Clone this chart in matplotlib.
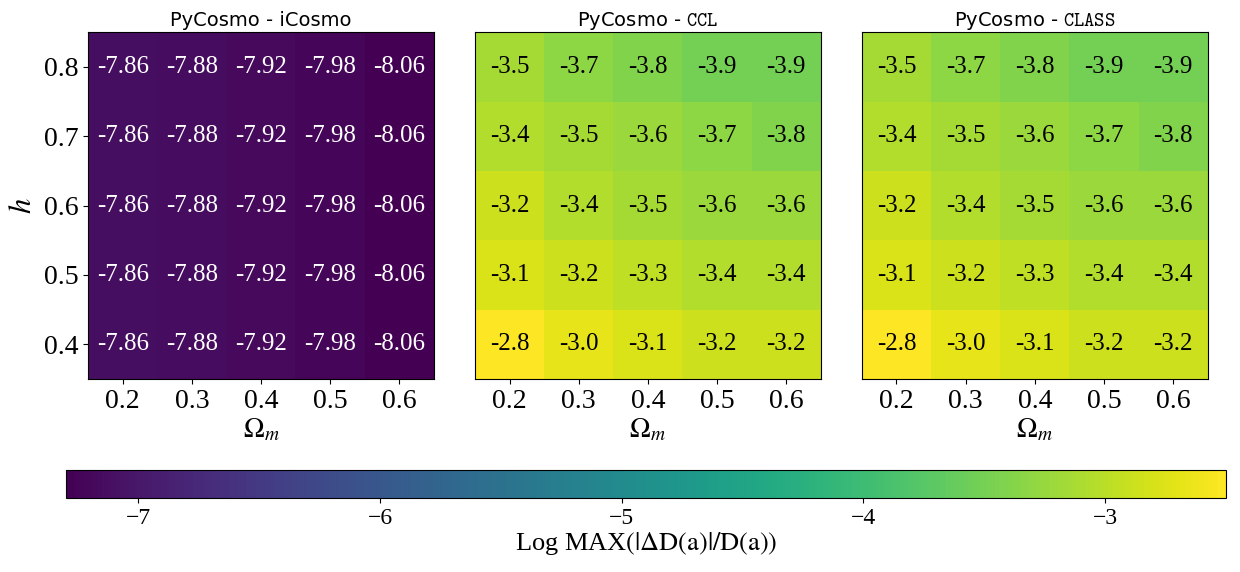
"""Accuracy of the linear growth factor: PyCosmo vs other codes."""

import numpy as np
import matplotlib
matplotlib.use("Agg")
import matplotlib.pyplot as plt
from matplotlib.colors import Normalize
from matplotlib.cm import ScalarMappable

omega_m = [0.2, 0.3, 0.4, 0.5, 0.6]
h_vals = [0.4, 0.5, 0.6, 0.7, 0.8]

# rows follow h_vals (0.4 at the bottom), columns follow omega_m
icosmo = [
    [-7.86, -7.88, -7.92, -7.98, -8.06],
    [-7.86, -7.88, -7.92, -7.98, -8.06],
    [-7.86, -7.88, -7.92, -7.98, -8.06],
    [-7.86, -7.88, -7.92, -7.98, -8.06],
    [-7.86, -7.88, -7.92, -7.98, -8.06],
]
ccl = [
    [-2.8, -3.0, -3.1, -3.2, -3.2],
    [-3.1, -3.2, -3.3, -3.4, -3.4],
    [-3.2, -3.4, -3.5, -3.6, -3.6],
    [-3.4, -3.5, -3.6, -3.7, -3.8],
    [-3.5, -3.7, -3.8, -3.9, -3.9],
]
class_code = [
    [-2.8, -3.0, -3.1, -3.2, -3.2],
    [-3.1, -3.2, -3.3, -3.4, -3.4],
    [-3.2, -3.4, -3.5, -3.6, -3.6],
    [-3.4, -3.5, -3.6, -3.7, -3.8],
    [-3.5, -3.7, -3.8, -3.9, -3.9],
]

# range shown on the shared colorbar
cbar_min, cbar_max = -7.3, -2.5

panels = [
    ("PyCosmo - iCosmo", icosmo, "{:.2f}", "white"),
    (r"PyCosmo - $\mathtt{CCL}$", ccl, "{:.1f}", "black"),
    (r"PyCosmo - $\mathtt{CLASS}$", class_code, "{:.1f}", "black"),
]

plt.rcParams["font.family"] = ["Liberation Serif", "DejaVu Serif"]
plt.rcParams["mathtext.fontset"] = "stix"

fig = plt.figure(figsize=(12.4, 5.72), dpi=100)

# heatmaps share one norm over all data
all_vals = np.concatenate([np.ravel(p[1]) for p in panels])
img_norm = Normalize(vmin=all_vals.min(), vmax=all_vals.max())
lefts = [0.071, 0.383, 0.695]

for i, (title, data, fmt, tcolor) in enumerate(panels):
    ax = fig.add_axes([lefts[i], 0.3374, 0.279, 0.6066])
    arr = np.array(data)
    ax.imshow(arr, cmap="viridis", norm=img_norm, origin="lower",
              extent=[0.15, 0.65, 0.35, 0.85], aspect="auto")
    for r, hv in enumerate(h_vals):
        for c, om in enumerate(omega_m):
            ax.text(om, hv, fmt.format(arr[r, c]), ha="center", va="center",
                    color=tcolor, fontsize=18)
    ax.set_xticks(omega_m)
    ax.set_xticklabels([f"{v:.1f}" for v in omega_m])
    ax.tick_params(labelsize=20)
    ax.set_xlabel(r"$\Omega_m$", fontsize=20, labelpad=2)
    ax.set_title(title, fontsize=14, family="DejaVu Sans",
                 math_fontfamily="cm", pad=4)
    if i == 0:
        ax.set_yticks(h_vals)
        ax.set_yticklabels([f"{v:.1f}" for v in h_vals])
        ax.set_ylabel(r"$h$", fontsize=22, labelpad=4)
    else:
        ax.set_yticks([])

cax = fig.add_axes([0.0532, 0.1294, 0.9355, 0.049])
sm = ScalarMappable(norm=Normalize(vmin=cbar_min, vmax=cbar_max), cmap="viridis")
cb = fig.colorbar(sm, cax=cax, orientation="horizontal")
cb.ax.tick_params(labelsize=17)
cb.set_label(r"Log MAX$\left(|\Delta \mathrm{D(a)}|/\mathrm{D(a)}\right)$",
             fontsize=19, labelpad=1)

fig.savefig("out.png", dpi=100)
plt.close(fig)
